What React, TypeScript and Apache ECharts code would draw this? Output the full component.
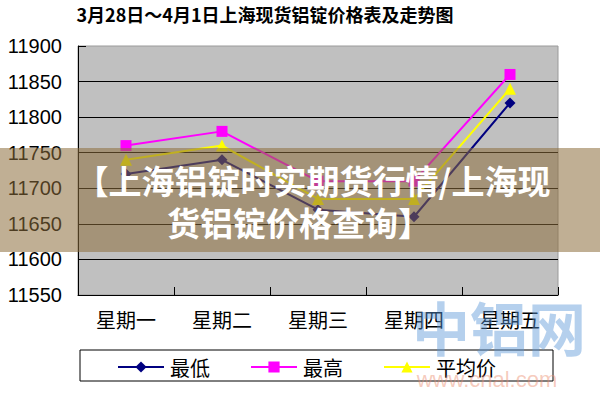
import React, { useEffect, useRef } from "react";
import * as echarts from "echarts";

const categories = ["星期一", "星期二", "星期三", "星期四", "星期五"];
const minPrices = [11720, 11740, 11670, 11660, 11820];
const maxPrices = [11760, 11780, 11710, 11710, 11860];
const avgPrices = [11740, 11760, 11685, 11685, 11840];
const seriesNames = ["最低", "最高", "平均价"];
const titleText = "3月28日～4月1日上海现货铝锭价格表及走势图";
const bannerLine1 = "【上海铝锭时实期货行情/上海现";
const bannerLine2 = "货铝锭价格查询】";

const CJK = '"Noto Sans CJK SC", "Noto Sans", sans-serif';
const NUM = '"Liberation Sans", Arial, sans-serif';

export default function App() {
  const ref = useRef<HTMLDivElement>(null);
  useEffect(() => {
    if (!ref.current) return;
    const chart = echarts.init(ref.current, null, { renderer: "svg" });
    const lineSeries = (name: string, data: number[], color: string, symbol: string, size: number) => ({
      name,
      type: "line",
      data,
      symbol,
      symbolSize: size,
      lineStyle: { color, width: 2 },
      itemStyle: { color },
      z: 3,
    });
    chart.setOption({
      animation: false,
      backgroundColor: "#ffffff",
      grid: {
        left: 78,
        right: 42,
        top: 46,
        bottom: 105,
        show: true,
        backgroundColor: "#c0c0c0",
        borderColor: "#9a9a9a",
        borderWidth: 1,
      },
      xAxis: {
        type: "category",
        data: categories,
        boundaryGap: true,
        axisLine: { lineStyle: { color: "#000", width: 1 } },
        axisTick: { show: true, inside: true, length: 8, lineStyle: { color: "#000" } },
        axisLabel: { color: "#000", fontSize: 20, fontFamily: CJK, margin: 14 },
      },
      yAxis: {
        type: "value",
        min: 11550,
        max: 11900,
        interval: 50,
        axisLine: { show: true, lineStyle: { color: "#000", width: 1 } },
        axisTick: { show: true, inside: true, length: 8, lineStyle: { color: "#000" } },
        axisLabel: {
          color: "#000",
          fontSize: 20,
          fontFamily: NUM,
          margin: 16,
          formatter: (v: number) => String(v),
        },
        splitLine: { show: true, showMaxLine: false, lineStyle: { color: "#000", width: 1 } },
      },
      legend: {
        data: seriesNames,
        left: 117,
        top: 357,
        padding: 0,
        itemWidth: 46,
        itemHeight: 14,
        itemGap: 40,
        textStyle: { color: "#000", fontSize: 20, fontFamily: CJK, padding: [0, 0, 0, 1] },
        z: 5,
      },
      series: [
        lineSeries(seriesNames[0], minPrices, "#000080", "diamond", 11),
        lineSeries(seriesNames[1], maxPrices, "#ff00ff", "rect", 11),
        lineSeries(seriesNames[2], avgPrices, "#ffff00", "triangle", 12),
      ],
      graphic: [
        {
          type: "rect",
          shape: { x: 80, y: 350, width: 473, height: 31 },
          style: { fill: "#ffffff", stroke: "#000", lineWidth: 1 },
          z: 1,
        },
        {
          type: "text",
          x: 265,
          y: 14,
          style: {
            text: titleText,
            fontSize: 18,
            fontWeight: "bold",
            fontFamily: CJK,
            fill: "#000",
            align: "center",
            verticalAlign: "middle",
          },
          z: 10,
        },
        {
          type: "text",
          x: 499,
          y: 326,
          style: {
            text: "中铝网",
            fontSize: 58,
            fontWeight: "bold",
            fontFamily: CJK,
            fill: "rgba(90,150,215,0.45)",
            align: "center",
            verticalAlign: "middle",
          },
          z: 20,
        },
        {
          type: "text",
          x: 487,
          y: 379,
          style: {
            text: "www.cnal.com",
            fontSize: 22,
            fontFamily: NUM,
            fill: "rgba(235,140,110,0.45)",
            align: "center",
            verticalAlign: "middle",
          },
          z: 20,
        },
        {
          type: "rect",
          shape: { x: 0, y: 148, width: 600, height: 104 },
          style: { fill: "rgba(140,110,60,0.55)" },
          z: 100,
        },
        {
          type: "text",
          x: 313,
          y: 180,
          style: {
            text: bannerLine1,
            fontSize: 33,
            fontWeight: "bold",
            fontFamily: CJK,
            fill: "#ffffff",
            align: "center",
            verticalAlign: "middle",
          },
          z: 101,
        },
        {
          type: "text",
          x: 299,
          y: 222,
          style: {
            text: bannerLine2,
            fontSize: 33,
            fontWeight: "bold",
            fontFamily: CJK,
            fill: "#ffffff",
            align: "center",
            verticalAlign: "middle",
          },
          z: 101,
        },
      ],
    });
    return () => chart.dispose();
  }, []);
  return <div ref={ref} style={{ width: 600, height: 400, position: "absolute", left: 0, top: 0 }} />;
}
